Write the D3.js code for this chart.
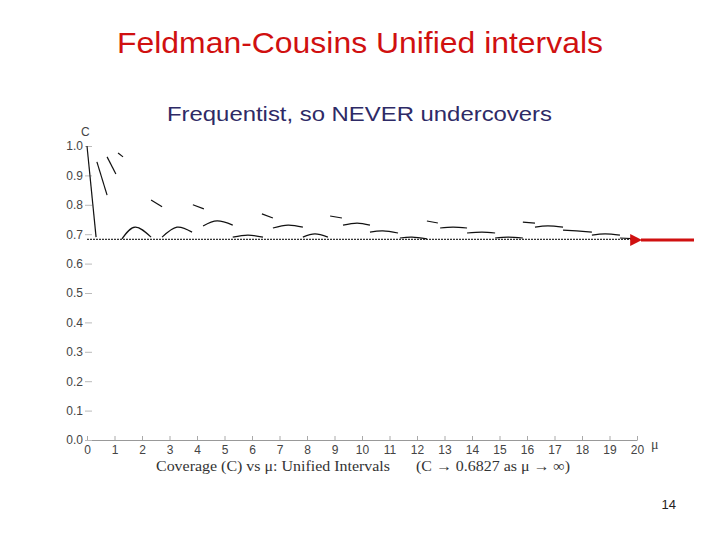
<!DOCTYPE html>
<html><head><meta charset="utf-8">
<script src="https://cdn.jsdelivr.net/npm/d3@7"></script>
<style>body{margin:0;background:#fff}svg{display:block}</style>
</head><body>
<script>
// ---- data ----
const title = "Feldman-Cousins Unified intervals";
const subtitle = "Frequentist, so NEVER undercovers";
const caption1 = "Coverage (C) vs \u03bc: Unified Intervals";
const caption2 = "(C \u2192 0.6827 as \u03bc \u2192 \u221e)";
const pageNumber = "14";
const xTicks = d3.range(0, 21);
const yTicks = [0.0, 0.1, 0.2, 0.3, 0.4, 0.5, 0.6, 0.7, 0.8, 0.9, 1.0];
const limitC = 0.6827;
// coverage curve pieces: [mu, C]
const segments = [
  [[0.0, 1.0], [0.33, 0.69]],
  [[0.36, 0.946], [0.73, 0.833]],
  [[0.73, 0.963], [1.05, 0.905]],
  [[1.13, 0.976], [1.31, 0.963]],
  [[1.27, 0.684], [1.75, 0.724], [2.33, 0.69]],
  [[2.33, 0.816], [2.73, 0.793]],
  [[2.73, 0.69], [3.27, 0.724], [3.82, 0.707]],
  [[3.85, 0.80], [4.25, 0.786]],
  [[4.22, 0.728], [4.73, 0.745], [5.30, 0.731]],
  [[5.30, 0.69], [5.85, 0.697], [6.40, 0.69]],
  [[6.36, 0.769], [6.76, 0.755]],
  [[6.76, 0.721], [7.31, 0.731], [7.85, 0.724]],
  [[7.85, 0.69], [8.29, 0.701], [8.76, 0.69]],
  [[8.84, 0.762], [9.27, 0.755]],
  [[9.31, 0.731], [9.82, 0.738], [10.29, 0.731]],
  [[10.29, 0.707], [10.76, 0.711], [11.31, 0.704]],
  [[11.38, 0.687], [11.82, 0.69], [12.36, 0.684]],
  [[12.36, 0.745], [12.76, 0.738]],
  [[12.84, 0.721], [13.31, 0.724], [13.82, 0.721]],
  [[13.82, 0.704], [14.36, 0.707], [14.84, 0.704]],
  [[14.84, 0.687], [15.31, 0.69], [15.85, 0.687]],
  [[15.85, 0.741], [16.29, 0.738]],
  [[16.29, 0.724], [16.76, 0.728], [17.31, 0.724]],
  [[17.31, 0.714], [17.80, 0.711], [18.36, 0.707]],
  [[18.36, 0.697], [18.84, 0.701], [19.38, 0.697]],
  [[19.38, 0.687], [20.0, 0.684]]
];

// ---- drawing ----
const W = 720, H = 540;
const svg = d3.select("body").append("svg").attr("width", W).attr("height", H);
const x = d3.scaleLinear().domain([0, 20]).range([87, 637]);
const y = d3.scaleLinear().domain([0, 1]).range([440, 146]);

svg.append("text").attr("x", 117).attr("y", 53)
  .attr("font-family", "Liberation Sans, Arial, sans-serif").attr("font-size", 30)
  .attr("textLength", 486).attr("lengthAdjust", "spacingAndGlyphs")
  .attr("fill", "#d01010").text(title);
svg.append("text").attr("x", 167).attr("y", 121)
  .attr("font-family", "Liberation Sans, Arial, sans-serif").attr("font-size", 21)
  .attr("textLength", 385).attr("lengthAdjust", "spacingAndGlyphs")
  .attr("fill", "#2e2a66").text(subtitle);

// x axis
const xAxis = d3.axisBottom(x).tickValues(xTicks).tickSize(0).tickPadding(5).tickFormat(d3.format("d"));
const gx = svg.append("g").attr("transform", "translate(0,440)").call(xAxis);
gx.select(".domain").attr("stroke", "#999");
gx.selectAll(".tick line").attr("y2", -4).attr("stroke", "#aaa");
gx.selectAll(".tick text").attr("font-family", "Liberation Sans, Arial, sans-serif")
  .attr("font-size", 12).attr("fill", "#444");
// y axis
const yAxis = d3.axisLeft(y).tickValues(yTicks).tickSize(0).tickPadding(1).tickFormat(d3.format(".1f"));
const gy = svg.append("g").attr("transform", "translate(84,0)").call(yAxis);
gy.select(".domain").remove();
gy.selectAll(".tick line").attr("x1", 1).attr("x2", 8).attr("stroke", "#bbb");
gy.selectAll(".tick text").attr("font-family", "Liberation Sans, Arial, sans-serif")
  .attr("font-size", 12).attr("fill", "#444");

svg.append("text").attr("x", 81).attr("y", 136).attr("font-family", "Liberation Sans, Arial, sans-serif")
  .attr("font-size", 12).attr("fill", "#444").text("C");
svg.append("text").attr("x", 651).attr("y", 449).attr("font-family", "Liberation Serif, Times New Roman, serif")
  .attr("font-size", 14).attr("fill", "#444").text("\u03bc");

// limit line
svg.append("line").attr("x1", x(0)).attr("x2", x(20)).attr("y1", y(limitC)).attr("y2", y(limitC))
  .attr("stroke", "#000").attr("stroke-width", 1).attr("stroke-dasharray", "2,1");

// curve segments
const line = d3.line().x(d => x(d[0])).y(d => y(d[1])).curve(d3.curveNatural);
svg.append("g").selectAll("path").data(segments).join("path")
  .attr("d", line).attr("fill", "none").attr("stroke", "#111").attr("stroke-width", 1.2);

// caption
const cap = svg.append("g").attr("font-family", "Liberation Serif, Times New Roman, serif")
  .attr("font-size", 15).attr("fill", "#333").attr("lengthAdjust", "spacingAndGlyphs");
cap.append("text").attr("x", 156).attr("y", 471).attr("textLength", 234).attr("lengthAdjust", "spacingAndGlyphs").text(caption1);
cap.append("text").attr("x", 416).attr("y", 471).attr("textLength", 154).attr("lengthAdjust", "spacingAndGlyphs").text(caption2);

// red arrow
svg.append("defs").append("marker").attr("id", "ah").attr("viewBox", "0 0 10 10")
  .attr("refX", 1).attr("refY", 5).attr("markerWidth", 4).attr("markerHeight", 4)
  .attr("orient", "auto-start-reverse").append("path").attr("d", "M10,0 L0,5 L10,10 Z").attr("fill", "#d01010");
svg.append("line").attr("x1", 694).attr("x2", 641).attr("y1", 240).attr("y2", 240)
  .attr("stroke", "#d01010").attr("stroke-width", 3).attr("marker-end", "url(#ah)");

svg.append("text").attr("x", 676).attr("y", 509).attr("text-anchor", "end")
  .attr("font-family", "Liberation Sans, Arial, sans-serif").attr("font-size", 13)
  .attr("fill", "#222").text(pageNumber);
</script>
</body></html>
